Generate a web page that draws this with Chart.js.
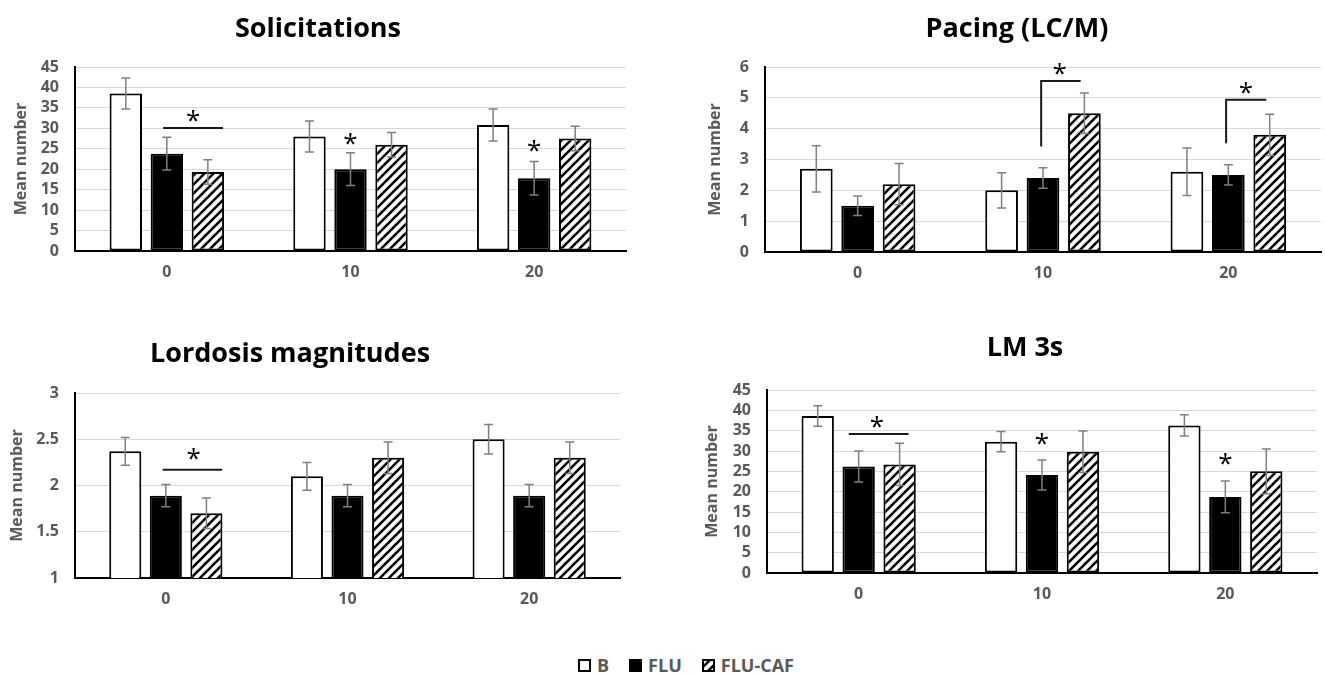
<!DOCTYPE html>
<html>
<head>
<meta charset="utf-8">
<script src="https://cdn.jsdelivr.net/npm/chart.js@4.4.1/dist/chart.umd.min.js"></script>
<style>
  html, body { margin: 0; padding: 0; background: #fff; }
  #page { position: relative; width: 1326px; height: 674px; overflow: hidden; font-family: 'Open Sans', sans-serif; }
  canvas.panel { position: absolute; }
  .ptitle { position: absolute; width: 400px; text-align: center; font-weight: 700; font-size: 27px; line-height: 27px; color: #000; white-space: nowrap; }
  #legend { position: absolute; left: 578px; top: 652px; height: 26px; display: flex; align-items: center; font-weight: 700; font-size: 18px; color: #595959; }
  #legend .item { display: flex; align-items: center; margin-right: 20px; }
  #legend canvas { margin-right: 6px; }
</style>
</head>
<body>
<div id="page">
  <canvas id="c1" class="panel" width="640" height="300" style="left:0;top:0"></canvas>
  <canvas id="c2" class="panel" width="626" height="300" style="left:700px;top:0"></canvas>
  <canvas id="c3" class="panel" width="640" height="330" style="left:0;top:310px"></canvas>
  <canvas id="c4" class="panel" width="626" height="330" style="left:700px;top:310px"></canvas>
  <div id="t1" class="ptitle" style="left:118px;top:13px"></div>
  <div id="t2" class="ptitle" style="left:817px;top:13px"></div>
  <div id="t3" class="ptitle" style="left:90px;top:338px"></div>
  <div id="t4" class="ptitle" style="left:825px;top:332px"></div>
  <div id="legend"></div>
</div>
<script>
// Dose groups on the x axis and the three treatment series
const categories = ['0', '10', '20'];
const seriesNames = ['B', 'FLU', 'FLU-CAF'];
const panelTitles = ['Solicitations', 'Pacing (LC/M)', 'Lordosis magnitudes', 'LM 3s'];
const yAxisTitle = 'Mean number';

// Solicitations: means and SEM
const solB = [38.5, 28.0, 30.8];
const solFLU = [23.8, 20.0, 17.8];
const solCAF = [19.3, 26.0, 27.5];
const solBErr = [3.8, 3.8, 3.9];
const solFLUErr = [4.0, 4.0, 4.1];
const solCAFErr = [3.0, 3.0, 3.0];

// Pacing (LC/M)
const pacB = [2.7, 2.0, 2.6];
const pacFLU = [1.5, 2.4, 2.5];
const pacCAF = [2.2, 4.5, 3.8];
const pacBErr = [0.75, 0.57, 0.77];
const pacFLUErr = [0.32, 0.33, 0.33];
const pacCAFErr = [0.67, 0.66, 0.67];

// Lordosis magnitudes
const lorB = [2.37, 2.1, 2.5];
const lorFLU = [1.89, 1.89, 1.89];
const lorCAF = [1.7, 2.3, 2.3];
const lorBErr = [0.15, 0.15, 0.16];
const lorFLUErr = [0.12, 0.12, 0.12];
const lorCAFErr = [0.165, 0.17, 0.17];

// LM 3s
const lmB = [38.6, 32.3, 36.3];
const lmFLU = [26.2, 24.1, 18.7];
const lmCAF = [26.7, 29.8, 25.0];
const lmBErr = [2.5, 2.5, 2.6];
const lmFLUErr = [3.8, 3.7, 3.9];
const lmCAFErr = [5.2, 5.1, 5.5];

// Y axis ranges: [min, max, step]
const solAxis = [0, 45, 5];
const pacAxis = [0, 6, 1];
const lorAxis = [1, 3, 0.5];
const lmAxis = [0, 45, 5];

// Significance marks, in data units: x offsets are fractions of a category width
// from the category centre, y values are on the value axis.
const solSig = [
  { cat: 0, line: [-0.02, 0.306, 30.1], star: [0.144, 33.1] },
  { cat: 1, star: [0, 27.4] },
  { cat: 2, star: [0, 25.8] }
];
const pacSig = [
  { cat: 1, bracket: [-0.01, 3.42, 0.203, 5.55], star: [0.09, 5.94] },
  { cat: 2, bracket: [-0.012, 3.53, 0.205, 4.94], star: [0.095, 5.32] }
];
const lorSig = [
  { cat: 0, line: [-0.018, 0.31, 2.17], star: [0.153, 2.34] }
];
const lmSig = [
  { cat: 0, line: [-0.054, 0.272, 34.2], star: [0.10, 37.2] },
  { cat: 1, star: [0, 32.9] },
  { cat: 2, star: [0, 28.0] }
];

Chart.defaults.font.family = "'Open Sans', sans-serif";

function hatchPattern(ctx) {
  const s = 9;
  const c = document.createElement('canvas');
  c.width = s; c.height = s;
  const g = c.getContext('2d');
  g.fillStyle = '#fff';
  g.fillRect(0, 0, s, s);
  g.strokeStyle = '#000';
  g.lineWidth = 2.6;
  g.beginPath();
  for (const k of [-s, 0, s]) {
    g.moveTo(k - 1, s + 1);
    g.lineTo(k + s + 1, -1);
  }
  g.stroke();
  return ctx.createPattern(c, 'repeat');
}

const seriesStyle = [
  { fill: () => '#ffffff' },
  { fill: () => '#000000' },
  { fill: (ctx) => hatchPattern(ctx) }
];

const sigByCanvas = {};

const errorBarsPlugin = {
  id: 'errorBars',
  afterDatasetsDraw(chart) {
    const ctx = chart.ctx;
    const ys = chart.scales.y;
    ctx.save();
    ctx.strokeStyle = '#7f7f7f';
    ctx.lineWidth = 1.5;
    chart.data.datasets.forEach((ds, i) => {
      const meta = chart.getDatasetMeta(i);
      meta.data.forEach((bar, j) => {
        const v = ds.data[j], e = ds.errors[j];
        const top = ys.getPixelForValue(v + e);
        const bot = ys.getPixelForValue(v - e);
        const x = bar.x;
        ctx.beginPath();
        ctx.moveTo(x, top); ctx.lineTo(x, bot);
        ctx.moveTo(x - 4.5, top); ctx.lineTo(x + 4.5, top);
        ctx.moveTo(x - 4.5, bot); ctx.lineTo(x + 4.5, bot);
        ctx.stroke();
      });
    });
    ctx.restore();
  }
};

const sigPlugin = {
  id: 'sigMarks',
  afterDatasetsDraw(chart) {
    const marks = sigByCanvas[chart.canvas.id] || [];
    const ctx = chart.ctx;
    const xs = chart.scales.x, ys = chart.scales.y;
    const step = xs.width / xs.ticks.length;
    const px = (cat, f) => xs.getPixelForValue(cat) + f * step;
    ctx.save();
    ctx.strokeStyle = '#1a1a1a';
    ctx.lineWidth = 2;
    ctx.fillStyle = '#000';
    ctx.font = "26px 'Open Sans'";
    ctx.textAlign = 'center';
    ctx.textBaseline = 'alphabetic';
    for (const m of marks) {
      if (m.line) {
        const [a, b, v] = m.line;
        ctx.beginPath();
        ctx.moveTo(px(m.cat, a), ys.getPixelForValue(v));
        ctx.lineTo(px(m.cat, b), ys.getPixelForValue(v));
        ctx.stroke();
      }
      if (m.bracket) {
        const [a, v0, b, v1] = m.bracket;
        ctx.beginPath();
        ctx.moveTo(px(m.cat, a), ys.getPixelForValue(v0));
        ctx.lineTo(px(m.cat, a), ys.getPixelForValue(v1));
        ctx.lineTo(px(m.cat, b), ys.getPixelForValue(v1));
        ctx.stroke();
      }
      if (m.star) {
        const [f, v] = m.star;
        const mt = ctx.measureText('*');
        const yc = ys.getPixelForValue(v);
        const base = yc - (mt.actualBoundingBoxDescent - mt.actualBoundingBoxAscent) / 2;
        ctx.fillText('*', px(m.cat, f), base);
      }
    }
    ctx.restore();
  }
};

function makePanel(id, series, errors, axis, sig, yWidth, pad, titlePad) {
  const canvas = document.getElementById(id);
  const ctx = canvas.getContext('2d');
  sigByCanvas[id] = sig;
  const datasets = seriesNames.map((name, i) => ({
    label: name,
    data: series[i],
    errors: errors[i],
    backgroundColor: seriesStyle[i].fill(ctx),
    borderColor: '#000',
    borderWidth: 2,
    borderSkipped: false,
    categoryPercentage: 0.67,
    barPercentage: 0.79
  }));
  return new Chart(ctx, {
    type: 'bar',
    data: { labels: categories, datasets },
    options: {
      responsive: false,
      animation: false,
      devicePixelRatio: 1,
      layout: { padding: pad },
      plugins: { legend: { display: false }, tooltip: { enabled: false }, title: { display: false } },
      scales: {
        x: {
          grid: { display: false, drawTicks: false },
          border: { display: true, color: '#000', width: 2 },
          ticks: { color: '#595959', font: { size: 16, weight: 'bold' }, padding: 12 },
          afterFit(scale) { scale.height = 40; }
        },
        y: {
          min: axis[0], max: axis[1],
          grid: { color: '#d9d9d9', lineWidth: 1, drawTicks: false },
          border: { display: true, color: '#000', width: 2 },
          ticks: {
            stepSize: axis[2], autoSkip: false,
            color: '#595959', font: { size: 16, weight: 'bold' }, padding: 16,
            callback: (v) => String(Math.round(v * 100) / 100)
          },
          title: { display: true, text: yAxisTitle, color: '#595959', font: { size: 16, weight: 'bold' }, padding: { top: titlePad, bottom: 0 } },
          afterFit(scale) { scale.width = yWidth; }
        }
      }
    },
    plugins: [errorBarsPlugin, sigPlugin]
  });
}

makePanel('c1', [solB, solFLU, solCAF], [solBErr, solFLUErr, solCAFErr], solAxis, solSig,
  75, { top: 67, right: 14, bottom: 9, left: 0 }, 12);
makePanel('c2', [pacB, pacFLU, pacCAF], [pacBErr, pacFLUErr, pacCAFErr], pacAxis, pacSig,
  65, { top: 67, right: 5, bottom: 8, left: 0 }, 6);
makePanel('c3', [lorB, lorFLU, lorCAF], [lorBErr, lorFLUErr, lorCAFErr], lorAxis, lorSig,
  75, { top: 83, right: 20, bottom: 22, left: 0 }, 8);
makePanel('c4', [lmB, lmFLU, lmCAF], [lmBErr, lmFLUErr, lmCAFErr], lmAxis, lmSig,
  67, { top: 80, right: 9, bottom: 27, left: 0 }, 3);

// Panel titles
panelTitles.forEach((t, i) => { document.getElementById('t' + (i + 1)).textContent = t; });

// Shared legend with drawn swatches
const legend = document.getElementById('legend');
seriesNames.forEach((name, i) => {
  const item = document.createElement('div');
  item.className = 'item';
  const sw = document.createElement('canvas');
  sw.width = 13; sw.height = 13;
  const g = sw.getContext('2d');
  g.fillStyle = seriesStyle[i].fill(g);
  g.fillRect(0, 0, 13, 13);
  g.strokeStyle = '#000';
  g.lineWidth = 2;
  g.strokeRect(1, 1, 11, 11);
  const label = document.createElement('span');
  label.textContent = name;
  item.appendChild(sw);
  item.appendChild(label);
  legend.appendChild(item);
});
</script>
</body>
</html>
